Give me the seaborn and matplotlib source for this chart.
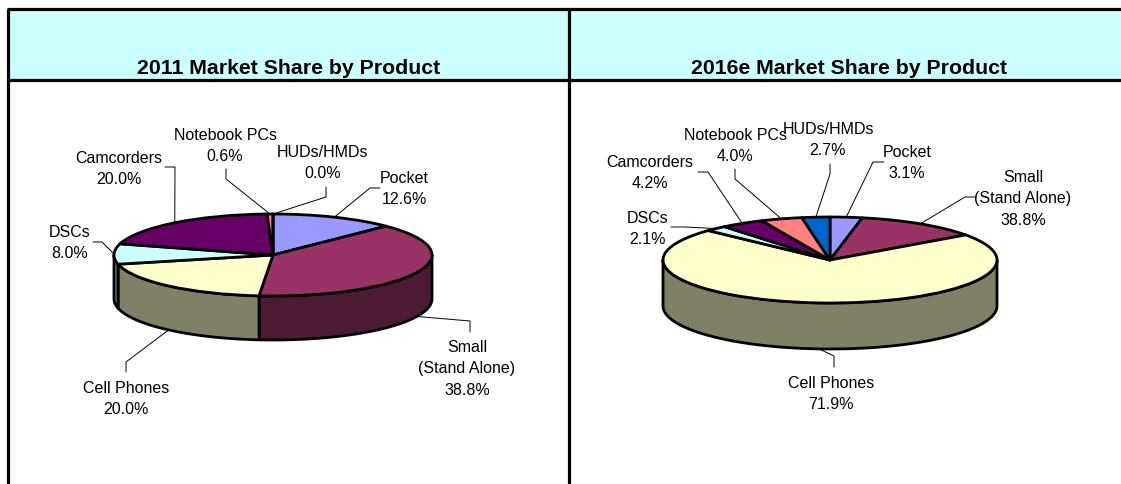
import numpy as np
import matplotlib
matplotlib.use("Agg")
import matplotlib.pyplot as plt
import seaborn as sns

# ---- DATA ----
products = ["Pocket", "Small\n(Stand Alone)", "Cell Phones", "DSCs", "Camcorders", "Notebook PCs", "HUDs/HMDs"]
share_2011 = [12.6, 38.8, 20.0, 8.0, 20.0, 0.6, 0.0]
share_2016 = [3.1, 12.0, 71.9, 2.1, 4.2, 4.0, 2.7]
# the source chart prints 38.8% for Small in 2016 although the slice is about 12%
text_2011 = ["12.6%", "38.8%", "20.0%", "8.0%", "20.0%", "0.6%", "0.0%"]
text_2016 = ["3.1%", "38.8%", "71.9%", "2.1%", "4.2%", "4.0%", "2.7%"]
titles = ["2011 Market Share by Product", "2016e Market Share by Product"]

# ---- STYLE ----
W, H = 1121, 485
top_colors = sns.color_palette(["#9999FF", "#993366", "#FFFFCC", "#CCFFFF", "#660066", "#FF8080", "#0066CC"])
side_colors = sns.color_palette(["#4D4D80", "#4D1A33", "#808066", "#668080", "#330033", "#804040", "#003366"])

sns.set_theme(style="white")
plt.rcParams["font.family"] = ["Liberation Sans", "DejaVu Sans"]

# ---- LAYOUT (pixels) ----
# pie: centre x, centre y, radius x, radius y, depth
pie_2011 = (273, 256, 159, 41, 44)
pie_2016 = (830, 261, 167, 43, 46)
# label centre for each product
label_2011 = [(404, 189), (467, 369), (126, 399), (70, 243), (119, 169), (225, 146), (323, 163)]
label_2016 = [(907, 163), (1023, 199), (831, 394), (648, 229), (650, 173), (735, 146), (828, 140)]
# leader line: elbow then end
leader_2011 = [[(370, 189), (380, 189)], [(470, 322), (470, 333)], [(126, 363), (126, 373)],
               [(102, 243), (93, 243)], [(175, 168), (165, 168)], [(226, 180), (226, 170)],
               [(326, 198), (326, 188)]]
leader_2016 = [[(873, 163), (884, 163)], [(965, 198), (976, 198)], [(834, 357), (834, 368)],
               [(685, 228), (671, 228)], [(708, 173), (698, 173)], [(735, 180), (735, 170)],
               [(830, 175), (830, 165)]]

fig = plt.figure(figsize=(W / 100, H / 100), dpi=100, facecolor="white")

# ---- Header and frame ----
bg = fig.add_axes([0, 0, 1, 1], zorder=0)
bg.set_xlim(0, W)
bg.set_ylim(H, 0)
bg.axis("off")
bg.fill_between([8, W], 10, 81, color="#CCFFFF", lw=0)
for xs, ys in [([7, W], [10, 10]), ([7, W], [81, 81]), ([8, 8], [10, H]), ([569, 569], [10, H])]:
    bg.plot(xs, ys, color="black", lw=2.3, solid_capstyle="butt")
for t, x in zip(titles, [289, 849]):
    bg.text(x, 68, t, ha="center", va="center", fontsize=15.3, fontweight="bold", color="black")

top = fig.add_axes([0, 0, 1, 1], zorder=2, facecolor="none")
top.set_xlim(0, W)
top.set_ylim(H, 0)
top.axis("off")


def draw_pie(values, geom, labels, label_pos, leaders):
    cx, cy, rx, ry, depth = geom
    d = depth / ry
    margin = 0.1
    y_low = -1 - d - margin
    y_high = 1 + margin
    ax = fig.add_axes([(cx - rx * (1 + margin)) / W, (H - cy - ry * -y_low) / H,
                       2 * rx * (1 + margin) / W, ry * (y_high - y_low) / H],
                      zorder=1, facecolor="none")
    ax.pie(values, colors=top_colors, startangle=90, counterclock=False, radius=1,
           wedgeprops=dict(edgecolor="black", linewidth=2.0, joinstyle="round"))
    ax.set_aspect("auto")
    ax.set_xlim(-1 - margin, 1 + margin)
    ax.set_ylim(y_low, y_high)

    # angle clockwise from the top of the ellipse
    edges = np.concatenate([[0], np.cumsum(values)]) / np.sum(values) * 2 * np.pi

    # side wall, only the front half of the rim shows
    for a0, a1, c in zip(edges[:-1], edges[1:], side_colors):
        lo, hi = max(a0, np.pi / 2), min(a1, 3 * np.pi / 2)
        if hi <= lo:
            continue
        th = np.linspace(lo, hi, 60)
        xs = np.sin(th)
        ys = np.cos(th)
        ax.fill(np.r_[xs, xs[::-1]], np.r_[ys, ys[::-1] - d], facecolor=c, edgecolor="black",
                lw=2.0, zorder=0.5, joinstyle="round")

    # labels and leader lines
    mids = (edges[:-1] + edges[1:]) / 2
    for m, name, pct, pos, path in zip(mids, products, labels, label_pos, leaders):
        px = cx + rx * np.sin(m)
        py = cy - ry * np.cos(m)
        if np.cos(m) < 0:
            py += depth
        pts = [(px, py)] + path
        top.plot([p[0] for p in pts], [p[1] for p in pts], color="black", lw=0.7)
        top.text(pos[0], pos[1], f"{name}\n{pct}", ha="center", va="center", fontsize=11.5,
                 color="black", linespacing=1.52)


draw_pie(share_2011, pie_2011, text_2011, label_2011, leader_2011)
draw_pie(share_2016, pie_2016, text_2016, label_2016, leader_2016)

fig.savefig("out.png", dpi=100)
plt.close()
